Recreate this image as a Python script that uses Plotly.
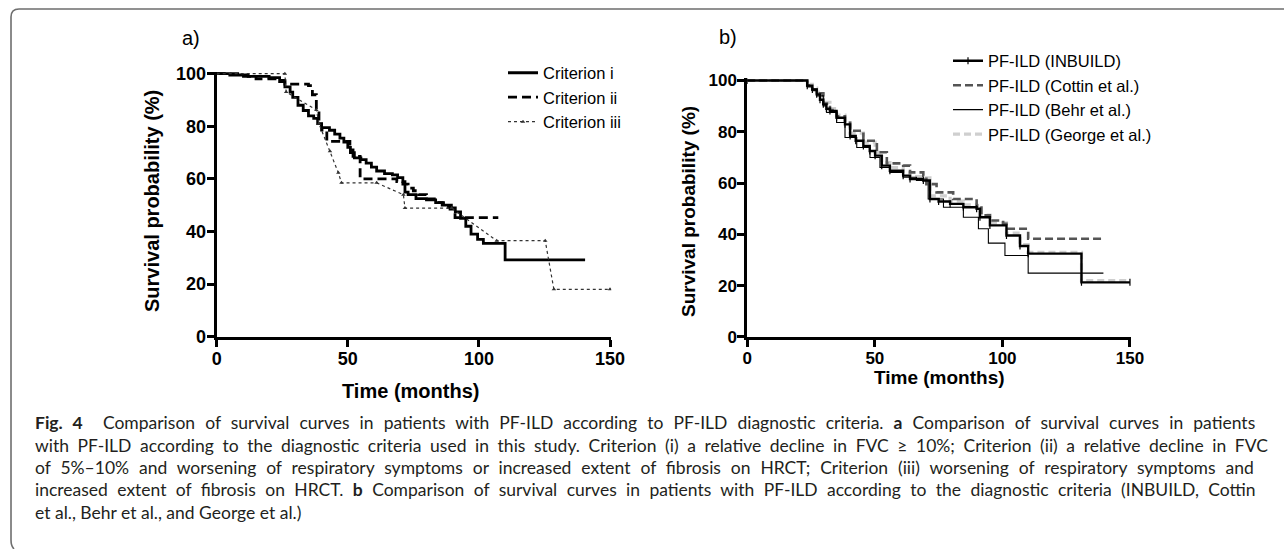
import plotly.graph_objects as go

W, H = 1284, 549

# ---------------- data: panel a ----------------
crit_i_t = [0, 5, 12, 20, 24, 26, 28, 29, 31, 33, 35, 37, 38.5, 40, 43, 45, 47, 48.5, 50, 51, 52.5, 55, 57, 59, 61, 64, 67, 69, 71, 71.8, 73, 76, 80, 83.5, 86, 89.5, 91, 93, 95, 97, 99.5, 101.7, 110, 140.5]
crit_i_s = [100, 99.5, 99, 98.5, 97, 95, 93, 91, 88, 86, 84, 83, 81, 79.5, 78.5, 77, 75.5, 74, 72, 70, 68, 67.3, 66, 64.5, 63, 62, 61.5, 60.5, 59, 55, 54, 52.5, 52, 51, 50, 49, 47.5, 45, 42, 39, 37, 35.5, 29.2, 29.2]

crit_ii_t = [0, 8, 15, 24, 26, 35, 36.5, 38, 39, 40, 42, 50.8, 52, 54.7, 68.7, 71, 73, 75, 77, 80, 83, 86.5, 89, 90.9, 107.4]
crit_ii_s = [100, 99, 98, 97.5, 96, 95.5, 92, 86.5, 82, 78.6, 74.3, 71, 68.6, 60, 59, 58, 56.5, 55.5, 54, 52.4, 51, 49.2, 48.5, 45.3, 45.3]

crit_iii_t = [0, 26, 26.5, 38, 39, 43.2, 46.4, 47.6, 61, 71.2, 71.8, 89.6, 106.8, 125.3, 128.6, 150]
crit_iii_s = [100, 100, 93, 86.2, 81, 70.5, 62.3, 58.5, 58.5, 54, 48.9, 48.9, 36.5, 36.5, 18, 18]

# ---------------- data: panel b ----------------
inbuild_t = [0, 23.5, 25.5, 27.2, 28.5, 29.8, 31, 32.4, 35, 38.3, 40.3, 42.5, 45.5, 48, 50.1, 52.7, 55.9, 61.1, 63.8, 69, 71.6, 75, 79.5, 84.7, 89.9, 91.2, 95.1, 101.6, 106.9, 110.1, 131, 150]
inbuild_s = [100, 98, 96.5, 94.6, 92.5, 90.7, 89, 88.1, 85.5, 82.9, 78.4, 76.5, 74.5, 72.5, 70.7, 66.8, 64.8, 62.9, 61.6, 61, 53.8, 52.8, 51.9, 50.6, 50, 46.7, 43.5, 39.6, 35.5, 32.5, 21.3, 21.3]

cottin_t = [0, 23.5, 25.5, 27.2, 29.8, 32.4, 35, 38.3, 40.3, 45.5, 50.8, 54.7, 61.1, 63.8, 69, 70.2, 74.2, 80.7, 89.9, 91.8, 95.1, 100.3, 101.6, 110.1, 140.2]
cottin_s = [100, 98, 96.5, 95, 91, 88.5, 86, 83.5, 80.4, 76.5, 72, 67.7, 66.8, 64.2, 62.9, 59.6, 56.4, 53.8, 51.3, 47.4, 45.4, 44.1, 42.2, 38.3, 38.3]

behr_t = [0, 23.5, 25.5, 27.2, 29.8, 31.1, 35, 38.3, 42.9, 48.1, 52, 55.9, 61.1, 66.3, 70.9, 76.9, 84.7, 90.6, 94.5, 101, 110.1, 139.6]
behr_s = [100, 97.5, 96, 94, 90.1, 87.5, 83.6, 77.8, 73.9, 70, 66.1, 64.2, 62.3, 61, 53.8, 50.6, 46.7, 42.2, 36.6, 31.8, 24.9, 24.9]

george_t = [0, 23.5, 25.5, 27.2, 29.8, 32.4, 35, 38.3, 40.3, 45.5, 50.1, 52.7, 55.9, 61.1, 63.8, 69, 71.6, 79.5, 84.7, 89.9, 91.2, 95.1, 101.6, 106.9, 110.1, 131, 150]
george_s = [100, 98.5, 97, 95.5, 91.5, 89, 86.5, 83.5, 79.5, 76, 72, 68, 66, 64, 62.5, 62, 55, 53, 51.5, 50.5, 47.5, 44.5, 40.5, 36, 33, 22, 22]

x_ticks = [0, 50, 100, 150]
y_ticks = [0, 20, 40, 60, 80, 100]

caption_lines = [
    "<b>Fig. 4</b>  Comparison of survival curves in patients with PF-ILD according to PF-ILD diagnostic criteria. <b>a</b> Comparison of survival curves in patients",
    "with PF-ILD according to the diagnostic criteria used in this study. Criterion (i) a relative decline in FVC ≥ 10%; Criterion (ii) a relative decline in FVC",
    "of 5%–10% and worsening of respiratory symptoms or increased extent of fibrosis on HRCT; Criterion (iii) worsening of respiratory symptoms and",
    "increased extent of fibrosis on HRCT. <b>b</b> Comparison of survival curves in patients with PF-ILD according to the diagnostic criteria (INBUILD, Cottin",
    "et al., Behr et al., and George et al.)",
]
caption_word_spacing = [5.6, 4.1, 5.4, 4.9, 0]

# ---------------- helpers ----------------
def px(x):
    return x / W

def py(y):
    return 1 - y / H

AX_FONT = "Arial, Liberation Sans, sans-serif"
CAP_FONT = "Lato, Open Sans, sans-serif"

fig = go.Figure()

# panel a traces
fig.add_trace(go.Scatter(x=crit_i_t, y=crit_i_s, mode="lines", line=dict(shape="hv", color="black", width=2.8),
                         name="Criterion i", xaxis="x", yaxis="y", legend="legend"))
fig.add_trace(go.Scatter(x=crit_ii_t, y=crit_ii_s, mode="lines", line=dict(shape="hv", color="black", width=2.8, dash="9px,5px"),
                         name="Criterion ii", xaxis="x", yaxis="y", legend="legend"))
fig.add_trace(go.Scatter(x=crit_iii_t, y=crit_iii_s, mode="lines+markers",
                         line=dict(color="#333333", width=1.2, dash="dot"),
                         marker=dict(symbol="triangle-up", size=4, color="#333333"),
                         name="Criterion iii", xaxis="x", yaxis="y", legend="legend"))

# panel b traces
fig.add_trace(go.Scatter(x=george_t, y=george_s, mode="lines", line=dict(shape="hv", color="#cfcfcf", width=3.2, dash="7px,4px"),
                         name="PF-ILD (George et al.)", xaxis="x2", yaxis="y2", legend="legend2", legendrank=4))
fig.add_trace(go.Scatter(x=cottin_t, y=cottin_s, mode="lines", line=dict(shape="hv", color="#555555", width=2.6, dash="8px,4px"),
                         name="PF-ILD (Cottin et al.)", xaxis="x2", yaxis="y2", legend="legend2", legendrank=2))
fig.add_trace(go.Scatter(x=inbuild_t, y=inbuild_s, mode="lines+markers", line=dict(shape="hv", color="black", width=2.4),
                         marker=dict(symbol="line-ns", size=5, line=dict(width=1.2, color="black"), color="black"),
                         name="PF-ILD (INBUILD)", xaxis="x2", yaxis="y2", legend="legend2", legendrank=1))
fig.add_trace(go.Scatter(x=behr_t, y=behr_s, mode="lines", line=dict(shape="hv", color="black", width=1.1),
                         name="PF-ILD (Behr et al.)", xaxis="x2", yaxis="y2", legend="legend2", legendrank=3))

def axis_common(size, standoff):
    return dict(showline=True, linewidth=3, linecolor="black", mirror=False, automargin=False,
                ticks="outside", ticklen=7, tickwidth=3, tickcolor="black",
                showgrid=False, zeroline=False, ticklabelstandoff=standoff,
                tickfont=dict(family=AX_FONT, size=size, color="black", weight="bold"))

xa = axis_common(18, -3); xa.update(domain=[px(216.7), px(216.7 + 150.5 * 2.622)], range=[0, 150.5], tickvals=x_ticks, anchor="y")
ya = axis_common(18, -3); ya.update(domain=[py(336.7), py(336.7 - 100.8 * 2.63)], range=[0, 100.8], tickvals=y_ticks, anchor="x")
xb = axis_common(17, -3); xb.update(domain=[px(747.3), px(747.3 + 150.5 * 2.551)], range=[0, 150.5], tickvals=x_ticks, anchor="y2")
yb = axis_common(17, -3); yb.update(domain=[py(337), py(337 - 100.8 * 2.565)], range=[0, 100.8], tickvals=y_ticks, anchor="x2")

annotations = []
def add_text(text, x, y, size, bold=False, angle=0, family=AX_FONT, xanchor="center", color="black"):
    annotations.append(dict(text=text, x=px(x), y=py(y), xref="paper", yref="paper", showarrow=False,
                            xanchor=xanchor, yanchor="middle", textangle=angle,
                            font=dict(family=family, size=size, color=color, weight="bold" if bold else "normal")))

add_text("a)", 191, 38, 20)
add_text("b)", 728, 37, 20)
add_text("Time (months)", 410, 391, 20, bold=True)
add_text("Time (months)", 939, 377, 19, bold=True)
add_text("Survival probability (%)", 152, 201, 20, bold=True, angle=-90)
add_text("Survival probability (%)", 688, 211, 19, bold=True, angle=-90)

cap_y = [422, 445, 467, 489.5, 512]
for line, yy, ws in zip(caption_lines, cap_y, caption_word_spacing):
    txt = f'<span style="word-spacing:{ws}px">{line}</span>' if ws else line
    add_text(txt, 33, yy, 17.5, family=CAP_FONT, xanchor="left", color="#231f20")

# figure border (top + left with rounded corners)
def P(x, y):
    return f"{px(x):.5f},{py(y):.5f}"
border = f"M {P(1284, 9)} L {P(19, 9)} Q {P(11, 9)} {P(11, 17)} L {P(11, 540)} Q {P(11, 546)} {P(14, 549)}"
shapes = [dict(type="path", path=border, xref="paper", yref="paper", line=dict(color="#6e6e6e", width=1.6))]

fig.update_layout(
    width=W, height=H, margin=dict(l=0, r=0, t=0, b=0, pad=0, autoexpand=False),
    paper_bgcolor="white", plot_bgcolor="white",
    xaxis=xa, yaxis=ya, xaxis2=xb, yaxis2=yb,
    annotations=annotations, shapes=shapes,
    showlegend=True,
    legend=dict(x=px(503), y=py(55.5), xanchor="left", yanchor="top", bgcolor="rgba(0,0,0,0)",
                font=dict(family=AX_FONT, size=16.5, color="black"), itemwidth=30, tracegroupgap=0,
                traceorder="normal"),
    legend2=dict(x=px(948), y=py(43.5), xanchor="left", yanchor="top", bgcolor="rgba(0,0,0,0)",
                 font=dict(family=AX_FONT, size=16.5, color="black"), itemwidth=30, tracegroupgap=0,
                 traceorder="normal"),
)

fig.write_html("out.html", config={"displayModeBar": False},
               post_script="document.body.style.margin='0';document.body.style.padding='0';")
